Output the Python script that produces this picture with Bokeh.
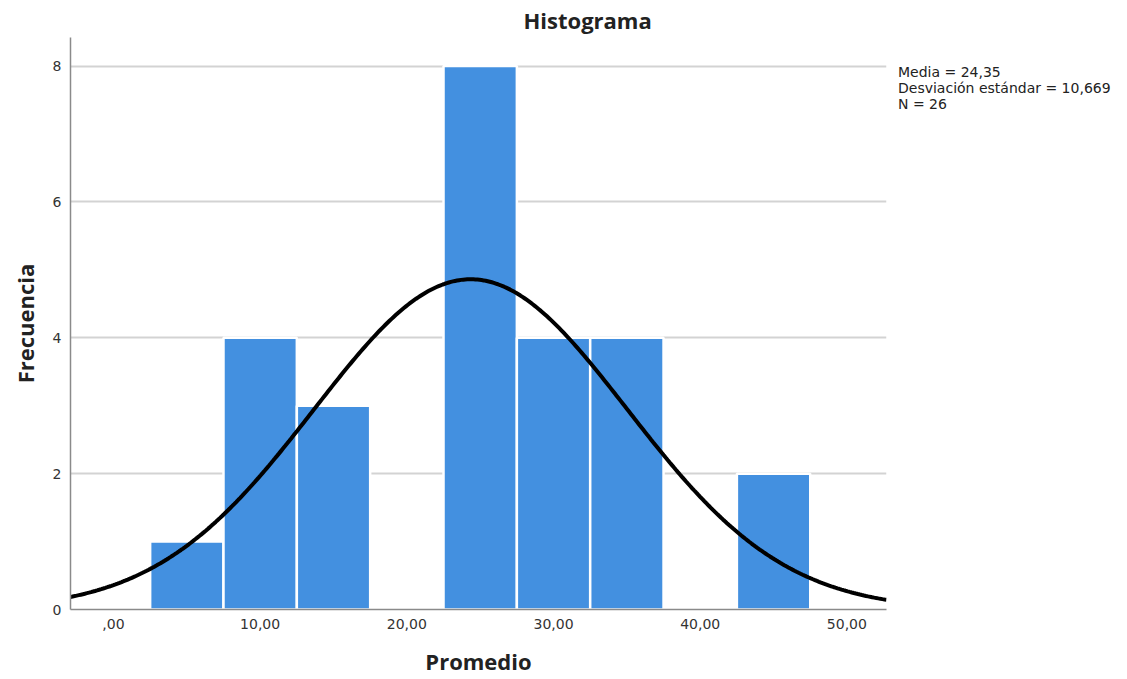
import numpy as np
from bokeh.plotting import figure
from bokeh.models import Range1d, FixedTicker, Div
from bokeh.layouts import row
from bokeh.embed import file_html
from bokeh.resources import INLINE

# Data
bin_centers = [5, 10, 15, 20, 25, 30, 35, 40, 45]
counts = [1, 4, 3, 0, 8, 4, 4, 0, 2]
bin_width = 5
mean = 24.35
std = 10.669
n = 26
x_ticks = [0, 10, 20, 30, 40, 50]
x_tick_labels = [",00", "10,00", "20,00", "30,00", "40,00", "50,00"]
y_ticks = [0, 2, 4, 6, 8]
stats_lines = ["Media = 24,35", "Desviación estándar = 10,669", "N = 26"]

p = figure(frame_width=816, frame_height=572, output_backend="svg", toolbar_location=None,
           x_range=Range1d(-2.93, 52.7), y_range=Range1d(0, 8.42),
           min_border_left=70, min_border_right=10, min_border_top=28, min_border_bottom=61)
p.outline_line_color = None
p.background_fill_color = "white"
p.border_fill_color = "white"

# Title
p.title.text = "Histograma"
p.title.align = "left"
p.title.offset = 453
p.title.standoff = 5
p.title.text_font = "Open Sans"
p.title.text_font_size = "22px"
p.title.text_font_style = "bold"
p.title.text_color = "#222222"

# Bars
left = [c - bin_width / 2 for c in bin_centers]
right = [c + bin_width / 2 for c in bin_centers]
p.quad(left=left, right=right, bottom=0, top=counts,
       fill_color="#4390E0", line_color="white", line_width=2.5)

# Normal curve
xs = np.linspace(-2.93, 52.7, 400)
ys = n * bin_width * np.exp(-0.5 * ((xs - mean) / std) ** 2) / (std * np.sqrt(2 * np.pi))
p.line(xs, ys, line_color="black", line_width=4)

# Axes
p.xaxis.ticker = FixedTicker(ticks=x_ticks)
p.xaxis.major_label_overrides = {t: l for t, l in zip(x_ticks, x_tick_labels)}
p.yaxis.ticker = FixedTicker(ticks=y_ticks)
for ax in (p.xaxis[0], p.yaxis[0]):
    ax.major_tick_line_color = None
    ax.minor_tick_line_color = None
    ax.major_tick_out = 0
    ax.major_tick_in = 0
    ax.minor_tick_out = 0
    ax.axis_line_color = "#8a8a8a"
    ax.axis_line_width = 1.5
    ax.major_label_text_font = "DejaVu Sans"
    ax.major_label_text_font_size = "14px"
    ax.major_label_text_color = "#333333"
    ax.major_label_standoff = 9
    ax.axis_label_text_font = "Open Sans"
    ax.axis_label_text_font_style = "bold"
    ax.axis_label_text_font_size = "22px"
    ax.axis_label_text_color = "#222222"
p.xaxis.axis_label = "Promedio"
p.yaxis.axis_label = "Frecuencia"
p.xaxis.axis_label_standoff = 14
p.yaxis.axis_label_standoff = 10

p.xgrid.grid_line_color = None
p.ygrid.grid_line_color = "#d3d3d3"
p.ygrid.grid_line_width = 2

stats = Div(text="<br>".join(stats_lines), width=232, height=60,
            styles={"font-family": "'DejaVu Sans', sans-serif", "font-size": "14px",
                    "line-height": "16px", "color": "#222222", "margin-top": "64px",
                    "margin-left": "2px", "white-space": "nowrap"})

layout = row(p, stats)
open("out.html", "w").write(file_html(layout, INLINE))
